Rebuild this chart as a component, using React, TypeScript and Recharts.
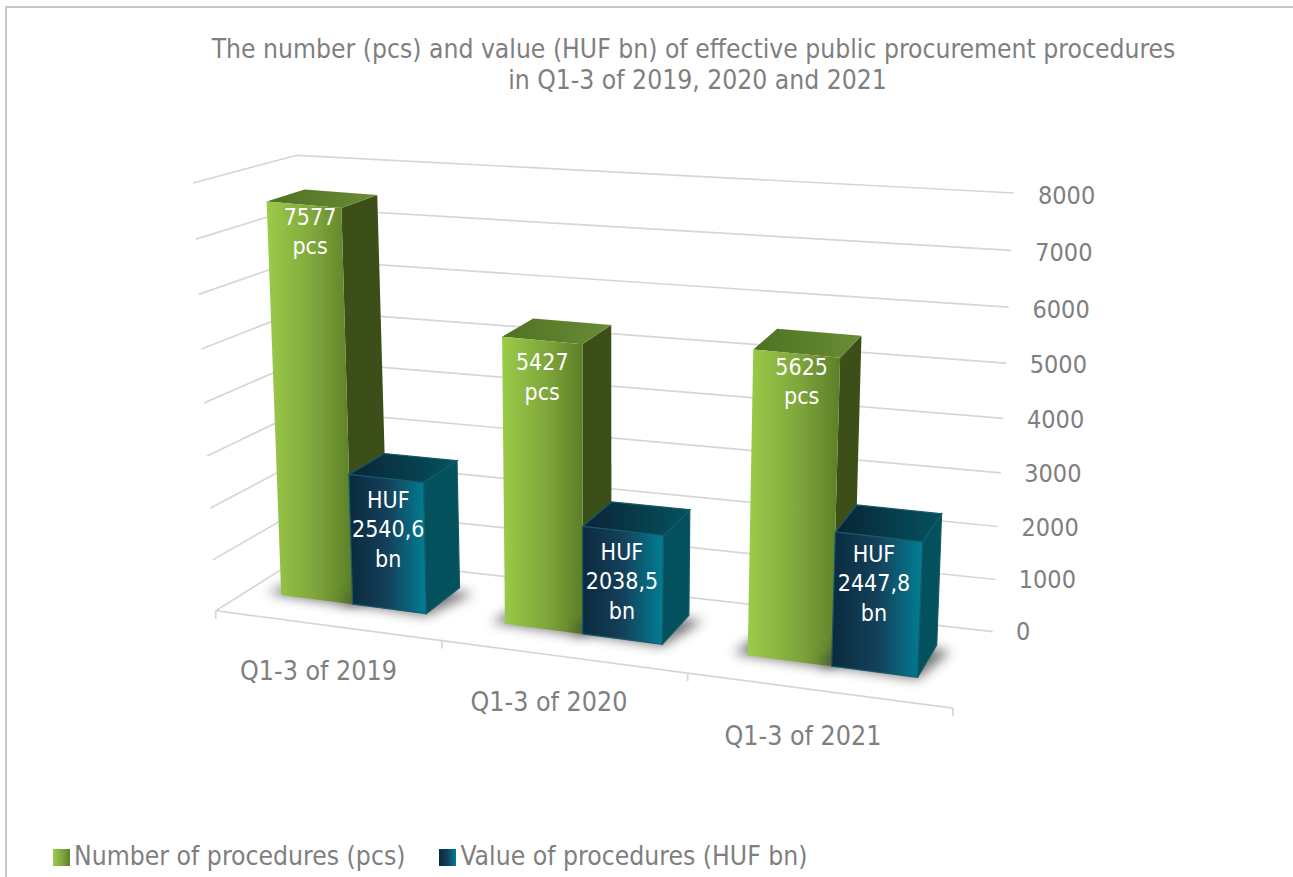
import { Bar, BarChart, CartesianGrid, LabelList, Legend, XAxis, YAxis } from 'recharts';

const categories = ['Q1-3 of 2019', 'Q1-3 of 2020', 'Q1-3 of 2021'];
const procedureCounts = [7577, 5427, 5625];
const procedureValues = [2540.6, 2038.5, 2447.8];
const countLabels = [['7577', 'pcs'], ['5427', 'pcs'], ['5625', 'pcs']];
const valueLabels = [['HUF', '2540,6', 'bn'], ['HUF', '2038,5', 'bn'], ['HUF', '2447,8', 'bn']];
const yTicks = [0, 1000, 2000, 3000, 4000, 5000, 6000, 7000, 8000];

const tableData = categories.map((name, i) => ({
  name,
  count: procedureCounts[i],
  value: procedureValues[i]
}));

const FONT = '"DejaVu Sans Condensed", "DejaVu Sans", sans-serif';
const TEXT = '#7f7f7f';

// plot box, everything 3d below is projected from it
const PLOT_LEFT = 215;
const PLOT_W = 785;
const PLOT_TOP = 195;
const PLOT_H = 436;
const PLOT_BOTTOM = PLOT_TOP + PLOT_H;

type Pt = [number, number];

const bandU = (px: number) => ((px - PLOT_LEFT) / PLOT_W) * 3;

// front edge of the bars on the floor
const floorPoint = (px: number): Pt => {
  const u = bandU(px);
  const x = 245.1 + 211 * u + 9.5 * u * u;
  return [x, 595 + (x - 282) * 0.1295];
};

// the front edge of the floor itself
const floorEdge = (u: number): Pt => {
  const x = 215.7 + 216.5 * u + 9.75 * u * u;
  return [x, 610.7 + (x - 215.7) * 0.1322];
};

const lift = ([x, y]: Pt, t: number): Pt => [
  x + t * (x - 590) * 0.05,
  y - t * (417 + (y - 600) * 0.33) + t * (1 - t) * (1 - t) * Math.max(0, 850 - x) * 0.044
];

const back = ([x, y]: Pt): Pt => [
  x + 38 - (x - 266) * 0.029,
  y - (3.6 + 0.03 * y + 0.009 * x)
];

const poly = (pts: Pt[]) => pts.map(p => p.join(',')).join(' ');

const makeBox = (faces: { front: string; side: string; top: string; edge?: string }) => (props: any) => {
  const { x, width, height } = props;
  const t = height / PLOT_H;
  const bl = floorPoint(x);
  const br = floorPoint(x + width);
  const tl = lift(bl, t);
  const tr = lift(br, t);
  const edge = faces.edge ? { stroke: faces.edge, strokeWidth: 1.2 } : {};
  return (
    <g>
      <polygon
        points={poly([[bl[0] - 14, bl[1] - 2], [br[0], br[1] + 2], [back(br)[0] + 14, back(br)[1] + 6], back(bl)])}
        fill="#404040"
        opacity={0.7}
        filter="url(#floorShadow)"
      />
      <polygon points={poly([br, tr, back(tr), back(br)])} fill={faces.side} {...edge} />
      <polygon points={poly([tl, tr, back(tr), back(tl)])} fill={faces.top} {...edge} />
      <polygon points={poly([bl, br, tr, tl])} fill={faces.front} {...edge} />
    </g>
  );
};

const GreenBox = makeBox({ front: 'url(#greenFront)', side: '#3c4f19', top: 'url(#greenTop)' });
const BlueBox = makeBox({ front: 'url(#blueFront)', side: '#02515d', top: 'url(#blueTop)', edge: '#17596a' });

// small corrections so the text sits where it does in the picture
const countNudge: Pt[] = [[6, 12], [0, 22], [5, 13]];
const valueNudge: Pt[] = [[2, 21], [-1, 21], [-5, 17]];
const categoryNudge: Pt[] = [[-34.5, 76], [-34, 77], [-29, 79]];

const makeLabel = (lines: string[][], nudge: Pt[]) => (props: any) => {
  const { x, width, height, index } = props;
  const t = height / PLOT_H;
  const a = lift(floorPoint(x), t);
  const b = lift(floorPoint(x + width), t);
  const cx = (a[0] + b[0]) / 2 + nudge[index][0];
  const cy = (a[1] + b[1]) / 2 + nudge[index][1];
  return (
    <text textAnchor="middle" fill="#ffffff" fontSize={23} fontFamily={FONT}>
      {lines[index].map((line, i) => (
        <tspan key={i} x={cx} y={cy + 8 + i * 29.5}>
          {line}
        </tspan>
      ))}
    </text>
  );
};

const wallLine = (props: any) => {
  const t = (PLOT_BOTTOM - props.y1) / PLOT_H;
  const bulge = 24 * t * (1 - t);
  const front: Pt = [215.7 - 22.7 * t, 610.7 - 427.7 * t + bulge];
  const corner: Pt = [306 - 9.3 * t, 554 - 398.7 * t + bulge];
  const right: Pt = [992.7 + 21.3 * t, 631.7 - 438.7 * t + bulge];
  return (
    <g key={props.key ?? props.index}>
      <polyline points={poly([front, corner, right])} fill="none" stroke="#d6d6d6" strokeWidth={1.7} />
      {t === 0 && (
        <g fill="none" stroke="#d6d6d6" strokeWidth={1.7}>
          <polyline points={poly([0, 0.5, 1, 1.5, 2, 2.5, 3].map(floorEdge))} />
          {[0, 1, 2, 3].map(u => {
            const p = floorEdge(u);
            return <line key={u} x1={p[0]} y1={p[1]} x2={p[0]} y2={p[1] + 8} />;
          })}
        </g>
      )}
    </g>
  );
};

const ValueTick = (props: any) => {
  const t = (PLOT_BOTTOM - props.y) / PLOT_H;
  return (
    <text
      x={1016 + 22 * t}
      y={props.y + 24 * t * (1 - t) + 9}
      fill={TEXT}
      fontSize={25}
      fontFamily={FONT}
      textAnchor="start"
    >
      {props.payload.value}
    </text>
  );
};

const CategoryTick = (props: any) => {
  const p = floorPoint(props.x);
  const nudge = categoryNudge[props.index];
  return (
    <text x={p[0] + nudge[0]} y={p[1] + nudge[1]} fill={TEXT} fontSize={26.6} fontFamily={FONT} textAnchor="middle">
      {props.payload.value}
    </text>
  );
};

export default function App() {
  return (
    <div style={{ position: 'absolute', left: 0, top: 0, width: 1293, height: 877, overflow: 'hidden', background: '#fff' }}>
      <div
        style={{
          position: 'absolute',
          left: 5,
          top: 6,
          width: 1300,
          height: 880,
          borderLeft: '2px solid #c8c8c8',
          borderTop: '2px solid #c8c8c8'
        }}
      />
      <div
        style={{
          position: 'absolute',
          left: 0,
          top: 34,
          width: 1387,
          textAlign: 'center',
          color: TEXT,
          fontFamily: FONT,
          fontSize: 26.25,
          lineHeight: '31px'
        }}
      >
        The number (pcs) and value (HUF bn) of effective public procurement procedures
        <br />
        <span style={{ position: 'relative', left: 4 }}>in Q1-3 of 2019, 2020 and 2021</span>
      </div>
      <BarChart
        width={1293}
        height={877}
        data={tableData}
        barGap={0}
        barCategoryGap="17%"
        margin={{ top: PLOT_TOP, right: 0, bottom: 0, left: PLOT_LEFT }}
        style={{ position: 'absolute', left: 0, top: 0 }}
      >
        <defs>
          <linearGradient id="greenFront" x1="0" y1="0" x2="1" y2="0">
            <stop offset="0" stopColor="#9ccb48" />
            <stop offset="0.55" stopColor="#7fa63c" />
            <stop offset="1" stopColor="#5c7f27" />
          </linearGradient>
          <linearGradient id="greenTop" x1="0" y1="0" x2="1" y2="0">
            <stop offset="0" stopColor="#4d7222" />
            <stop offset="1" stopColor="#6a8c35" />
          </linearGradient>
          <linearGradient id="blueFront" x1="0" y1="0" x2="1" y2="0">
            <stop offset="0" stopColor="#0a2a3e" />
            <stop offset="0.5" stopColor="#14405a" />
            <stop offset="1" stopColor="#007f94" />
          </linearGradient>
          <linearGradient id="blueTop" x1="0" y1="0" x2="1" y2="0">
            <stop offset="0" stopColor="#0a2435" />
            <stop offset="1" stopColor="#04525f" />
          </linearGradient>
          <filter id="floorShadow" x="-30%" y="-60%" width="160%" height="220%">
            <feGaussianBlur stdDeviation="6" />
          </filter>
        </defs>
        <CartesianGrid horizontal={wallLine} vertical={false} />
        <XAxis dataKey="name" height={206} axisLine={false} tickLine={false} tick={CategoryTick} interval={0} />
        <YAxis
          orientation="right"
          width={293}
          domain={[0, 8000]}
          ticks={yTicks}
          axisLine={false}
          tickLine={false}
          tick={ValueTick}
          interval={0}
        />
        <Legend
          verticalAlign="bottom"
          align="left"
          iconType="square"
          iconSize={17}
          wrapperStyle={{ height: 40, left: 53, bottom: -4, width: 900, fontFamily: FONT, fontSize: 26.3 }}
          formatter={(name: string) => <span style={{ color: TEXT, paddingRight: 24 }}>{name}</span>}
        />
        <Bar
          dataKey="count"
          name="Number of procedures (pcs)"
          fill="url(#greenFront)"
          shape={GreenBox}
          isAnimationActive={false}
        >
          <LabelList dataKey="count" content={makeLabel(countLabels, countNudge)} />
        </Bar>
        <Bar
          dataKey="value"
          name="Value of procedures (HUF bn)"
          fill="url(#blueFront)"
          shape={BlueBox}
          isAnimationActive={false}
        >
          <LabelList dataKey="value" content={makeLabel(valueLabels, valueNudge)} />
        </Bar>
      </BarChart>
    </div>
  );
}
